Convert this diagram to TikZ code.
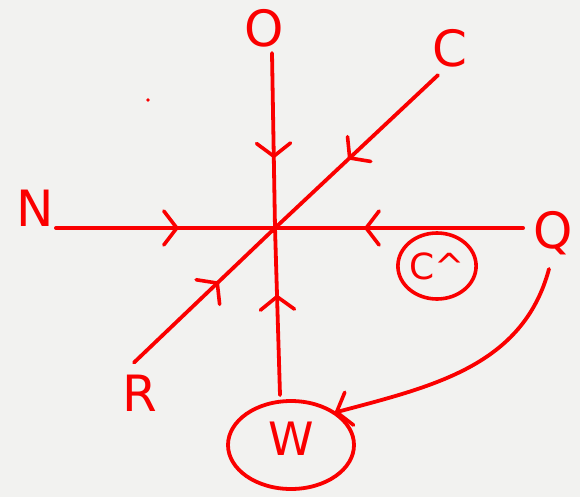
\documentclass[tikz,border=0pt]{standalone}
\usepackage{fontspec}
\setmainfont{DejaVu Sans}
\usetikzlibrary{arrows.meta,decorations.markings,shapes.geometric}
\definecolor{bg}{RGB}{242,242,240}
\definecolor{ink}{RGB}{250,0,0}
\tikzset{barbtip/.tip={Straight Barb[length=13pt,width=34pt,line width=3.6pt,round]}}
\begin{document}
\begin{tikzpicture}[x=1pt,y=-1pt,
  lbl/.style={text=ink,font=\fontsize{50}{50}\selectfont,inner sep=2pt},
  wire/.style={draw=ink,line width=3.8pt,line cap=round},
  midarrow/.style={postaction={decorate},decoration={markings,
     mark=at position #1 with {\arrow{barbtip}}}},
]
\fill[bg] (0,0) rectangle (580,497);
\useasboundingbox (0,0) rectangle (580,497);
\coordinate (ctr) at (275,228);
\node[lbl] (O) at (264,28) {O};
\node[lbl] (C) at (450,48) {C};
\node[lbl] (N) at (35,208) {N};
\node[lbl] (Q) at (553,233) {Q};
\node[lbl] (R) at (140,393) {R};
\node[draw=ink,line width=3.8pt,ellipse,minimum width=126pt,minimum height=88pt,inner sep=0pt,
      text=ink,font=\fontsize{46}{46}\selectfont] (W) at (291,445) {\raisebox{12pt}{W}};
\node[draw=ink,line width=3.6pt,ellipse,minimum width=76pt,minimum height=66pt,inner sep=0pt,text=ink,
      font=\fontsize{36}{36}\selectfont] (Ch) at (437,266) {C\textasciicircum};
\fill[ink] (148,100) circle (1.8pt);
\draw[wire,midarrow=0.6] ([xshift=8pt,yshift=-4pt]O.south) -- (ctr);
\draw[wire,midarrow=0.55] ([xshift=-12pt,yshift=-6pt]C.south) -- (ctr);
\draw[wire,midarrow=0.56] (N.east |- ctr) -- (ctr);
\draw[wire,midarrow=0.64] ([xshift=-8pt]Q.west |- ctr) -- (ctr);
\draw[wire,midarrow=0.6] ([xshift=-6pt,yshift=10pt]R.north) -- (ctr);
\draw[wire,midarrow=0.6] ([xshift=-11pt,yshift=4pt]W.north) -- (ctr);
\draw[wire,-barbtip]
  ([xshift=-4pt,yshift=-12pt]Q.south) to[out=-105,in=15] ([xshift=-2pt]W.north east);
\end{tikzpicture}
\end{document}
